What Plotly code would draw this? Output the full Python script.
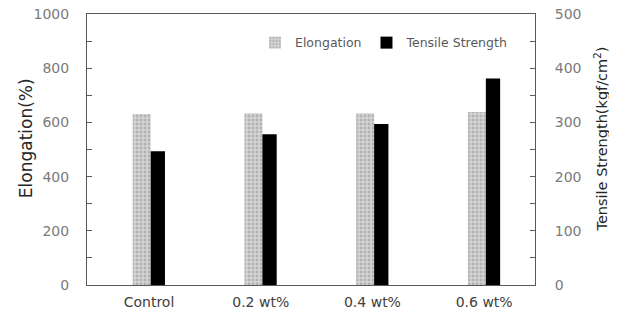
import plotly.graph_objects as go

categories = ["Control", "0.2 wt%", "0.4 wt%", "0.6 wt%"]
elongation = [631, 634, 634, 638]
tensile = [247, 278, 297, 381]

FONT = "DejaVu Sans"
AXC = "#595959"

fig = go.Figure()
fig.add_trace(go.Bar(
    x=categories, y=elongation, name="Elongation", yaxis="y",
    offset=-0.146, width=0.161,
    marker=dict(color="#cfcfcf", line=dict(width=0),
                pattern=dict(shape=".", fgcolor="#8f8f8f", bgcolor="#d4d4d4",
                             size=4, solidity=0.4)),
))
fig.add_trace(go.Bar(
    x=categories, y=tensile, name="Tensile Strength", yaxis="y2",
    offset=0.015, width=0.128,
    marker=dict(color="#000000", line=dict(width=0)),
))

# page body adds an 8px margin, so the figure is sized/offset to compensate
fig.update_layout(
    width=609, height=309,
    margin=dict(l=79, r=82, t=6, b=32, autoexpand=False),
    paper_bgcolor="white", plot_bgcolor="white",
    barmode="overlay",
    font=dict(family=FONT, size=14, color=AXC),
    showlegend=True,
    legend=dict(orientation="h", x=0.375, y=0.893, xanchor="left", yanchor="middle",
                font=dict(family=FONT, size=12.5, color=AXC),
                bgcolor="rgba(0,0,0,0)"),
    xaxis=dict(type="category", range=[-0.555, 3.455], showline=True, linecolor=AXC,
               linewidth=1, mirror=True, ticks="", showgrid=False, automargin=False,
               tickfont=dict(family=FONT, size=14, color="#404040"), ticklabelstandoff=4),
    yaxis=dict(range=[0, 1000], dtick=200, showline=True, linecolor=AXC, linewidth=1,
               ticks="inside", ticklen=5, tickcolor=AXC, showgrid=False, zeroline=False,
               automargin=False, ticklabeloverflow="allow",
               minor=dict(dtick=100, ticks="inside", ticklen=5, tickcolor=AXC, showgrid=False),
               tickfont=dict(family=FONT, size=14, color="#7a7a7a"), ticklabelstandoff=14),
    yaxis2=dict(range=[0, 500], dtick=100, overlaying="y", side="right", showline=True,
                linecolor=AXC, linewidth=1, ticks="inside", ticklen=5, tickcolor=AXC,
                showgrid=False, zeroline=False, automargin=False, ticklabeloverflow="allow",
                minor=dict(dtick=50, ticks="inside", ticklen=5, tickcolor=AXC, showgrid=False),
                tickfont=dict(family=FONT, size=14, color="#7a7a7a"), ticklabelstandoff=16),
    annotations=[
        dict(text="Elongation(%)", xref="paper", yref="paper", x=-0.136, y=0.542,
             textangle=-90, showarrow=False, xanchor="center", yanchor="middle",
             font=dict(family=FONT, size=17, color="#262626")),
        dict(text="Tensile Strength(kgf/cm<sup>2</sup>)", xref="paper", yref="paper",
             x=1.147, y=0.54, textangle=-90, showarrow=False, xanchor="center",
             yanchor="middle", font=dict(family=FONT, size=14.5, color="#262626")),
    ],
)

fig.write_html("out.html")
